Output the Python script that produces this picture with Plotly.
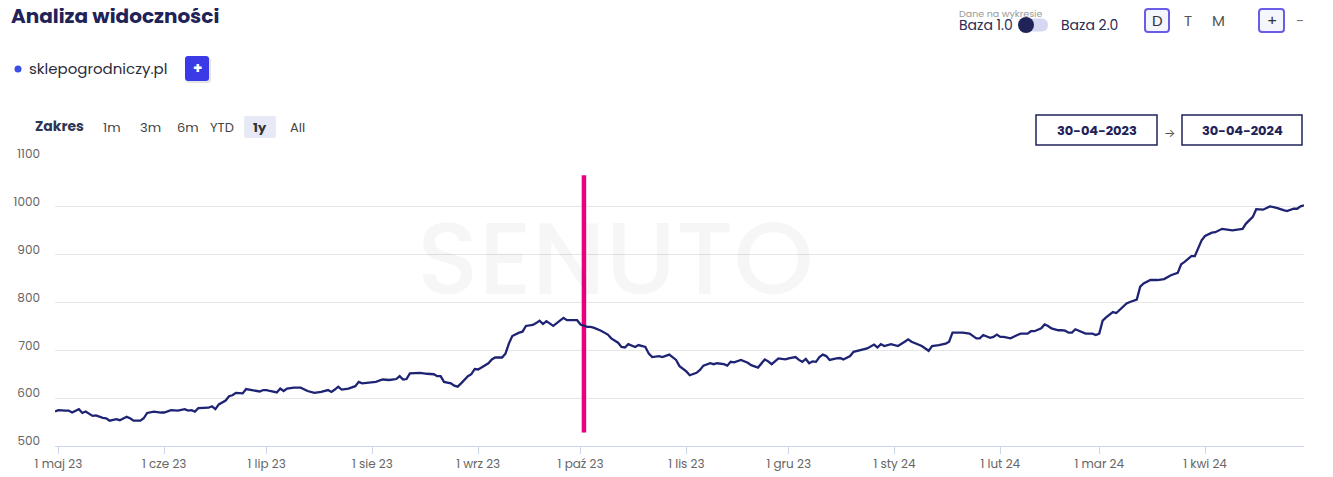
import pandas as pd
import plotly.graph_objects as go

# ---------------- data ----------------
start_date = "2023-04-30"
end_date = "2024-04-30"
days = [0, 1, 3, 4, 5, 7, 8, 9, 11, 12, 14, 15, 16, 17, 18, 19, 20, 21, 22, 23, 25, 26, 27, 28, 29, 31, 32, 34, 36, 38,
        39, 40, 41, 42, 44, 45, 46, 47, 48, 50, 51, 52, 53, 55, 56, 58, 60, 61,
        62, 63, 65, 66, 67, 68, 70, 72, 74, 76, 78, 80, 81, 82, 83, 84, 86, 88, 89, 90, 92, 94, 96, 98, 100, 101,
        102, 103, 104, 106, 107, 109, 111, 112, 113, 114, 116, 117, 118, 119, 120, 121, 122, 123,
        124, 126, 127, 128, 129, 131, 132, 133, 134, 136, 137, 138, 140, 141, 142, 143, 144, 146, 148, 149, 150,
        152, 153, 154, 156, 157, 158, 160, 161, 162, 163, 165, 166, 167, 168, 170, 171, 173, 174, 175, 177, 178,
        180, 182, 183,
        185, 186, 188, 189, 190, 192, 193, 194, 196, 197, 198, 199, 201, 203, 204, 206, 207, 208, 209, 210, 212,
        214, 215, 217, 218, 219, 220, 221, 222, 223, 224, 225, 226, 227, 229, 230, 231, 233, 234, 236, 238, 240,
        241, 242, 243, 245,
        246, 247, 249, 250, 251, 253, 254, 256, 257, 259, 261, 262, 263, 265, 266, 268, 270, 271, 272, 274, 275,
        276, 277, 278, 280, 282, 283, 285, 286, 287, 289, 290, 291, 292, 294, 295, 296, 297, 298, 299, 301, 302,
        304, 305, 306, 307, 308,
        309, 310, 311, 312, 314, 315, 317, 318, 319, 321, 323, 325, 327, 329, 330, 331, 333, 334, 336, 337, 339,
        340, 342, 344, 345, 347, 348, 349, 351, 352, 354, 356, 358, 360, 361, 363, 364, 365, 366]
visibility = [572, 575, 574, 574, 570, 577, 569, 572, 563, 564, 559, 558, 553, 555, 556, 554, 558, 561, 558, 553, 553, 558, 569, 570, 572, 570, 570, 575, 574, 577,
              574, 575, 572, 579, 579, 580, 583, 577, 587, 595, 604, 606, 611, 610, 619, 617, 614, 617,
              617, 615, 612, 620, 615, 620, 622, 622, 615, 611, 613, 617, 613, 618, 624, 618, 620, 625, 634, 631, 633, 634, 639, 638, 640, 646,
              639, 640, 652, 652, 653, 651, 650, 646, 646, 634, 631, 626, 624, 631, 638, 646, 650, 661,
              660, 669, 673, 681, 685, 685, 693, 714, 730, 737, 739, 751, 753, 757, 762, 755, 761, 751, 763, 768, 763,
              763, 763, 754, 749, 749, 747, 741, 737, 733, 725, 716, 707, 706, 713, 707, 711, 707, 693, 686, 688, 686,
              691, 680, 667,
              656, 648, 653, 659, 668, 673, 671, 673, 671, 668, 676, 675, 680, 674, 669, 664, 673, 681, 677, 671, 683,
              681, 683, 686, 680, 676, 682, 673, 677, 676, 686, 691, 688, 680, 683, 684, 681, 688, 697, 700, 704, 712,
              706, 713, 709, 713,
              711, 709, 718, 723, 718, 712, 709, 699, 709, 711, 714, 718, 737, 737, 737, 735, 725, 725, 732, 726, 728,
              733, 728, 728, 725, 732, 735, 735, 740, 740, 746, 754, 751, 746, 742, 742, 741, 737, 737, 744, 739, 735,
              735, 732, 735, 762, 769,
              775, 780, 778, 784, 798, 801, 806, 833, 840, 847, 847, 849, 857, 862, 880, 885, 897, 897, 930, 939, 946,
              947, 954, 952, 951, 953, 954, 965, 979, 995, 994, 1001, 998, 993, 991, 996, 996, 1001, 1003]

event_date = "2023-10-02"
event_range = [528, 1066]

tick_dates = ["2023-05-01", "2023-06-01", "2023-07-01", "2023-08-01", "2023-09-01", "2023-10-01",
              "2023-11-01", "2023-12-01", "2024-01-01", "2024-02-01", "2024-03-01", "2024-04-01"]
tick_labels = ["1 maj 23", "1 cze 23", "1 lip 23", "1 sie 23", "1 wrz 23", "1 paź 23",
               "1 lis 23", "1 gru 23", "1 sty 24", "1 lut 24", "1 mar 24", "1 kwi 24"]
y_ticks = [500, 600, 700, 800, 900, 1000, 1100]

domain_name = "sklepogrodniczy.pl"
range_buttons = ["1m", "3m", "6m", "YTD", "1y", "All"]

dates = pd.Timestamp(start_date) + pd.to_timedelta(days, unit="D")

# ---------------- figure ----------------
OFF = 8                      # page body margin in the browser
W, H = 1333 - OFF, 477 - OFF
ML, MR, MT, MB = 55 - OFF, 29, 159 - OFF, 31
PW, PH = W - ML - MR, H - MT - MB
FONT = "Poppins, Inter, sans-serif"
NAVY = "#1f2358"


def px(x):
    return (x - OFF - ML) / PW


def py(y):
    return (H - MB - (y - OFF)) / PH


fig = go.Figure()
fig.add_trace(go.Scatter(x=[event_date, event_date], y=event_range, mode="lines",
                         line=dict(color="#e6007e", width=4.5), hoverinfo="skip", showlegend=False))
fig.add_trace(go.Scatter(x=dates, y=visibility, mode="lines", name=domain_name,
                         line=dict(color="#1e2473", width=2.3), showlegend=False))

annotations = []
shapes = []


def text(x, y, s, size=13, color="#444", bold=False, anchor="left", family=FONT):
    annotations.append(dict(x=px(x), y=py(y), xref="paper", yref="paper", text=s, showarrow=False,
                            xanchor=anchor, yanchor="middle",
                            font=dict(size=size, color=color, family=family,
                                      weight=700 if bold else 400)))


def rrect(x0, y0, x1, y1, r, line=None, fill=None, lw=1.5):
    pts = [
        f"M{px(x0 + r)},{py(y0)}", f"L{px(x1 - r)},{py(y0)}", f"Q{px(x1)},{py(y0)} {px(x1)},{py(y0 + r)}",
        f"L{px(x1)},{py(y1 - r)}", f"Q{px(x1)},{py(y1)} {px(x1 - r)},{py(y1)}",
        f"L{px(x0 + r)},{py(y1)}", f"Q{px(x0)},{py(y1)} {px(x0)},{py(y1 - r)}",
        f"L{px(x0)},{py(y0 + r)}", f"Q{px(x0)},{py(y0)} {px(x0 + r)},{py(y0)}", "Z"]
    shapes.append(dict(type="path", path=" ".join(pts), xref="paper", yref="paper",
                       line=dict(color=line or "rgba(0,0,0,0)", width=lw if line else 0),
                       fillcolor=fill or "rgba(0,0,0,0)", layer="above"))


# title
text(8.5, 16, "Analiza widoczności", size=20, color=NAVY, bold=True)
# domain legend
shapes.append(dict(type="circle", xref="paper", yref="paper", x0=px(14.5), x1=px(21.5), y0=py(65.5), y1=py(72.5),
                   fillcolor="#3b4fe6", line=dict(width=0)))
text(27, 69, domain_name, size=15, color="#2b2b3b")
rrect(186, 58, 211, 83, 3, fill="rgba(0,0,0,0.10)")
rrect(185, 56, 209, 81, 3, fill="#3a3ae6")
text(197, 68.5, "+", size=15, color="white", bold=True, anchor="center")

# top right controls (the very top rows of the page are hidden behind the body margin)
text(957, 14, "Dane na wykresie", size=9.5, color="#9a9a9a")
text(957, 25, "Baza 1.0", size=14, color="#2b2b55")
rrect(1020, 18.5, 1048, 31.5, 6.5, fill="#d6d8f2")
shapes.append(dict(type="circle", xref="paper", yref="paper", x0=px(1018), x1=px(1034), y0=py(17), y1=py(33),
                   fillcolor=NAVY, line=dict(width=0)))
text(1059, 25, "Baza 2.0", size=14, color="#2b2b55")
rrect(1145, 9, 1169, 32, 3, line="#6b5ce7", fill="#f5f5fc", lw=2)
text(1157, 20.5, "D", size=15, color="#333", anchor="center")
text(1188, 20.5, "T", size=15, color="#555", anchor="center")
text(1218, 20.5, "M", size=15, color="#555", anchor="center")
rrect(1259, 9, 1284, 32, 3, line="#6b5ce7", fill="#f5f5fc", lw=2)
text(1271.5, 20.5, "+", size=15, color="#333", anchor="center")
text(1300, 20.5, "-", size=15, color="#777", anchor="center")

# range selector
text(33, 126, "Zakres", size=14, color="#2f3556", bold=True)
rrect(244, 116, 276, 138, 2, fill="#e7eaf6")
for lbl, cx in zip(range_buttons, [112, 150, 188, 222, 260, 297]):
    text(cx, 127.5, lbl, size=13, color="#333" if lbl == "1y" else "#444", bold=(lbl == "1y"), anchor="center")

# date inputs
shapes.append(dict(type="rect", xref="paper", yref="paper", x0=px(1036), x1=px(1157), y0=py(115), y1=py(145),
                   line=dict(color=NAVY, width=1.5), fillcolor="white"))
text(1097, 130.5, "30-04-2023", size=13, color=NAVY, bold=True, anchor="center")
text(1169, 132.5, "→", size=12, color="#555", anchor="center")
shapes.append(dict(type="rect", xref="paper", yref="paper", x0=px(1182), x1=px(1302), y0=py(115), y1=py(145),
                   line=dict(color=NAVY, width=1.5), fillcolor="white"))
text(1242, 130.5, "30-04-2024", size=13, color=NAVY, bold=True, anchor="center")

# watermark
annotations.append(dict(x=px(615), y=py(258), xref="paper", yref="paper", text="SENUTO", showarrow=False,
                        xanchor="center", yanchor="middle",
                        font=dict(size=102, color="rgba(0,0,0,0.035)", family=FONT, weight=500)))

fig.update_layout(
    width=W, height=H, autosize=False,
    margin=dict(l=ML, r=MR, t=MT, b=MB, pad=0, autoexpand=False),
    paper_bgcolor="white", plot_bgcolor="white",
    font=dict(family=FONT, color="#666", size=12),
    showlegend=False,
    annotations=annotations, shapes=shapes,
    xaxis=dict(range=[start_date, end_date], tickvals=tick_dates, ticktext=tick_labels, automargin=False,
               showgrid=False, zeroline=False, showline=True, linecolor="#ccd6eb", linewidth=1,
               ticks="outside", ticklen=7, tickcolor="#ccd6eb", tickfont=dict(size=12, color="#666"),
               fixedrange=True),
    yaxis=dict(range=[500, 1100], tickvals=y_ticks, showgrid=True, gridcolor="#e6e6e6", gridwidth=1,
               automargin=False, zeroline=False, showline=False, ticks="", tickfont=dict(size=12, color="#666"),
               ticklabelstandoff=14, ticklabelshift=-5, fixedrange=True),
)

fig.write_html("out.html")
